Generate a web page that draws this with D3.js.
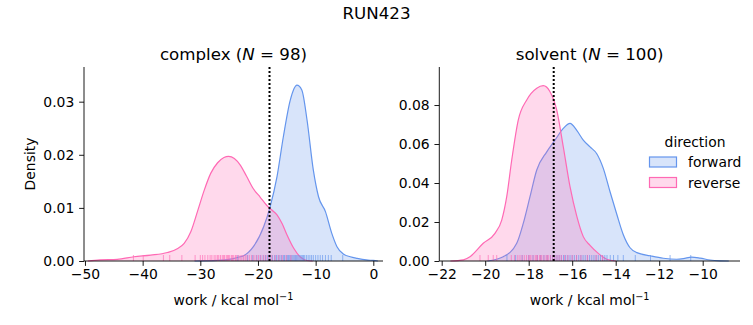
<!DOCTYPE html>
<html><head><meta charset="utf-8">
<script src="https://cdn.jsdelivr.net/npm/d3@7"></script>
<style>body{margin:0;background:#fff}text{font-family:"DejaVu Sans",sans-serif;fill:#000}</style>
</head><body>
<svg id="c" width="753" height="325"></svg>
<script>
// ---- data ----
const suptitle = "RUN423";
const directions = ["forward", "reverse"];
const colors = ["#6495ED", "#FF69B4"];

// complex, forward KDE
const cxF = [-31, -27, -24.5, -23.1, -22.5, -20.8, -19.0, -17.9, -16.7, -15.6, -14.4, -13.25, -12.4, -11.5, -10.4, -9.5, -8.3, -7.2, -6.3, -5.2, -4.0, -2.8, -1.2, 0, 0.8];
const cyF = [0, 0.0001, 0.0004, 0.0008, 0.0010, 0.0027, 0.0065, 0.0102, 0.0159, 0.0234, 0.0303, 0.0331, 0.0322, 0.0266, 0.0171, 0.0121, 0.0093, 0.0052, 0.0027, 0.0013, 0.0008, 0.0005, 0.0002, 0.0001, 0];
// complex, reverse KDE
const cxR = [-49.5, -47.4, -44.4, -41.5, -38.6, -35.7, -34.0, -32.8, -31.65, -30.5, -29.3, -28.2, -27.0, -25.9, -25.1, -24.1, -23.1, -22.0, -20.8, -19.6, -18.5, -17.6, -16.7, -15.8, -15.0, -13.8, -12.7, -11.5, -10.5];
const cyR = [0, 0.0002, 0.0003, 0.0008, 0.0011, 0.0016, 0.0023, 0.0033, 0.0055, 0.0093, 0.0134, 0.0165, 0.0185, 0.0195, 0.0197, 0.0193, 0.0181, 0.0160, 0.0136, 0.0120, 0.0105, 0.0096, 0.0087, 0.0070, 0.0050, 0.0024, 0.0008, 0.0001, 0];
// solvent, forward KDE
const sxF = [-19.9, -19.17, -18.55, -18.25, -17.94, -17.63, -17.17, -16.79, -16.41, -16.10, -15.79, -15.49, -15.18, -14.87, -14.57, -14.26, -13.95, -13.65, -13.34, -13.03, -12.42, -11.81, -11.20, -10.89, -10.51, -10.12, -9.66, -9.2, -8.8];
const syF = [0, 0.0022, 0.0091, 0.0193, 0.033, 0.0467, 0.056, 0.062, 0.068, 0.0706, 0.067, 0.062, 0.0585, 0.055, 0.0475, 0.0355, 0.024, 0.0135, 0.0068, 0.0043, 0.0027, 0.0014, 0.0009, 0.0012, 0.0020, 0.0015, 0.0005, 0.0001, 0];
// solvent, reverse KDE
const sxR = [-21.6, -21.0, -20.7, -20.09, -19.55, -19.24, -19.01, -18.78, -18.48, -18.09, -17.63, -17.33, -17.02, -16.71, -16.41, -16.10, -15.79, -15.49, -15.18, -14.80, -14.41, -14.0];
const syR = [0, 0.0006, 0.0022, 0.0091, 0.0142, 0.021, 0.033, 0.0518, 0.0723, 0.0826, 0.0886, 0.0899, 0.0868, 0.0774, 0.0586, 0.0381, 0.023, 0.0125, 0.0080, 0.0039, 0.0009, 0];

// rug samples
const rugCF = [-23.5, -21.8, -20.9, -20.2, -19.6, -19.1, -18.7, -18.3, -17.9, -17.5, -17.1, -16.8, -16.5, -16.2, -15.9, -15.6, -15.4, -15.1, -14.9, -14.7, -14.5, -14.3, -14.1, -13.9, -13.7, -13.5, -13.3, -13.1, -12.9, -12.7, -12.5, -12.3, -12.1, -11.9, -11.6, -11.3, -11.0, -10.7, -10.4, -10.0, -9.6, -9.2, -8.8, -8.3, -7.8, -7.3, -5.3];
const rugCR = [-41.6, -39.9, -36.4, -35.3, -33.2, -30.9, -30.0, -29.6, -29.2, -28.7, -28.3, -28.0, -27.6, -27.3, -27.0, -26.8, -26.5, -26.2, -26.0, -25.8, -25.5, -25.3, -25.1, -24.9, -24.6, -24.4, -24.2, -23.9, -23.7, -23.4, -23.1, -22.8, -22.5, -22.2, -21.9, -21.5, -21.1, -20.7, -20.3, -19.9, -19.5, -19.0, -18.6, -18.1, -17.6, -17.0, -16.4, -15.8, -15.1, -14.3];
const rugSF = [-19.0, -18.6, -18.3, -18.0, -17.8, -17.6, -17.45, -17.3, -17.15, -17.0, -16.9, -16.8, -16.7, -16.6, -16.5, -16.4, -16.3, -16.2, -16.1, -16.0, -15.9, -15.8, -15.7, -15.6, -15.5, -15.4, -15.3, -15.2, -15.1, -15.0, -14.9, -14.8, -14.7, -14.6, -14.5, -14.4, -14.25, -14.1, -13.9, -13.65, -13.1, -12.4, -11.5, -10.55];
const rugSR = [-20.24, -19.86, -19.63, -19.47, -18.8, -18.65, -18.5, -18.4, -18.3, -18.2, -18.1, -18.0, -17.95, -17.9, -17.8, -17.7, -17.65, -17.6, -17.5, -17.45, -17.4, -17.3, -17.2, -17.15, -17.1, -17.0, -16.9, -16.8, -16.7, -16.6, -16.5, -16.35, -16.2, -16.0, -15.8, -15.6, -15.3, -14.9, -14.6];

const panelTitles = ["complex", "solvent"];
const panelN = [98, 100];
const refLines = [-18.0, -16.85];
const xTicksC = [-50, -40, -30, -20, -10, 0];
const yTicksC = [0, 0.01, 0.02, 0.03];
const xTicksS = [-22, -20, -18, -16, -14, -12, -10];
const yTicksS = [0, 0.02, 0.04, 0.06, 0.08];

// ---- drawing ----
const svg = d3.select("#c");
const fmtX = d3.format("d");
const fmtY = d3.format(".2f");

svg.append("text").attr("x", 376.5).attr("y", 19).attr("text-anchor", "middle")
  .style("font-size", "16.67px").text(suptitle);

const panels = [
  {x0: 84, x1: 383, dom: [-50.17, 1.68], ymax: 0.03653, xt: xTicksC, yt: yTicksC,
   curves: [[cxF, cyF], [cxR, cyR]], rugs: [rugCF, rugCR], ylab: true},
  {x0: 439.3, x1: 740, dom: [-22.11, -8.285], ymax: 0.0995, xt: xTicksS, yt: yTicksS,
   curves: [[sxF, syF], [sxR, syR]], rugs: [rugSF, rugSR], ylab: false}
];
const yTop = 67, yBot = 261;

panels.forEach((p, i) => {
  const x = d3.scaleLinear().domain(p.dom).range([p.x0, p.x1]);
  const y = d3.scaleLinear().domain([0, p.ymax]).range([yBot, yTop]);
  const g = svg.append("g");

  p.curves.forEach((c, k) => {
    const pts = c[0].map((v, j) => [v, c[1][j]]);
    const area = d3.area().x(d => x(d[0])).y0(y(0)).y1(d => y(d[1])).curve(d3.curveMonotoneX);
    const line = d3.line().x(d => x(d[0])).y(d => y(d[1])).curve(d3.curveMonotoneX);
    g.append("path").attr("d", area(pts)).attr("fill", colors[k]).attr("fill-opacity", 0.25);
    g.append("path").attr("d", line(pts)).attr("fill", "none").attr("stroke", colors[k]).attr("stroke-width", 1.2);
  });
  p.rugs.forEach((r, k) => {
    g.selectAll(null).data(r).enter().append("line")
      .attr("x1", d => x(d)).attr("x2", d => x(d))
      .attr("y1", yBot).attr("y2", yBot - 6)
      .attr("stroke", colors[k]).attr("stroke-width", 1).attr("stroke-opacity", 0.65);
  });

  g.append("line").attr("x1", x(refLines[i])).attr("x2", x(refLines[i]))
    .attr("y1", yTop).attr("y2", yBot).attr("stroke", "#000")
    .attr("stroke-width", 2).attr("stroke-dasharray", "2,2");

  const xa = g.append("g").attr("transform", `translate(0,${yBot})`)
    .call(d3.axisBottom(x).tickValues(p.xt).tickFormat(fmtX).tickSize(4.86).tickPadding(3.4));
  const ya = g.append("g").attr("transform", `translate(${p.x0},0)`)
    .call(d3.axisLeft(y).tickValues(p.yt).tickFormat(fmtY).tickSize(4.86).tickPadding(4.86));
  [xa, ya].forEach(a => {
    a.select(".domain").attr("stroke-width", 0.9);
    a.selectAll(".tick line").attr("stroke-width", 0.9);
    a.selectAll("text").style("font-size", "13.9px").style("font-family", "DejaVu Sans");
  });
  xa.select(".domain").attr("d", `M${p.x0},0H${p.x1}`);
  ya.select(".domain").attr("d", `M0,${yTop}V${yBot}`);

  const cx = (p.x0 + p.x1) / 2;
  const t = g.append("text").attr("x", cx).attr("y", 60).attr("text-anchor", "middle").style("font-size", "16.67px");
  t.append("tspan").text(panelTitles[i] + " (");
  t.append("tspan").style("font-style", "italic").text("N");
  t.append("tspan").text(" = " + panelN[i] + ")");

  const xl = g.append("text").attr("x", cx).attr("y", 305).attr("text-anchor", "middle").style("font-size", "13.9px");
  xl.append("tspan").text("work / kcal mol");
  xl.append("tspan").attr("dy", -5).style("font-size", "9.7px").text("\u22121");

  if (p.ylab) {
    g.append("text").attr("transform", "translate(35,164) rotate(-90)").attr("text-anchor", "middle")
      .style("font-size", "13.9px").text("Density");
  }
});

// legend
const lg = svg.append("g");
lg.append("text").attr("x", 695).attr("y", 147).attr("text-anchor", "middle").style("font-size", "13.9px").text("direction");
directions.forEach((d, k) => {
  const yy = 157 + k * 20.5;
  lg.append("rect").attr("x", 649.5).attr("y", yy).attr("width", 27).attr("height", 10)
    .attr("fill", colors[k]).attr("fill-opacity", 0.25).attr("stroke", colors[k]).attr("stroke-width", 1.2);
  lg.append("text").attr("x", 688).attr("y", yy + 10).style("font-size", "13.9px").text(d);
});
</script>
</body></html>
